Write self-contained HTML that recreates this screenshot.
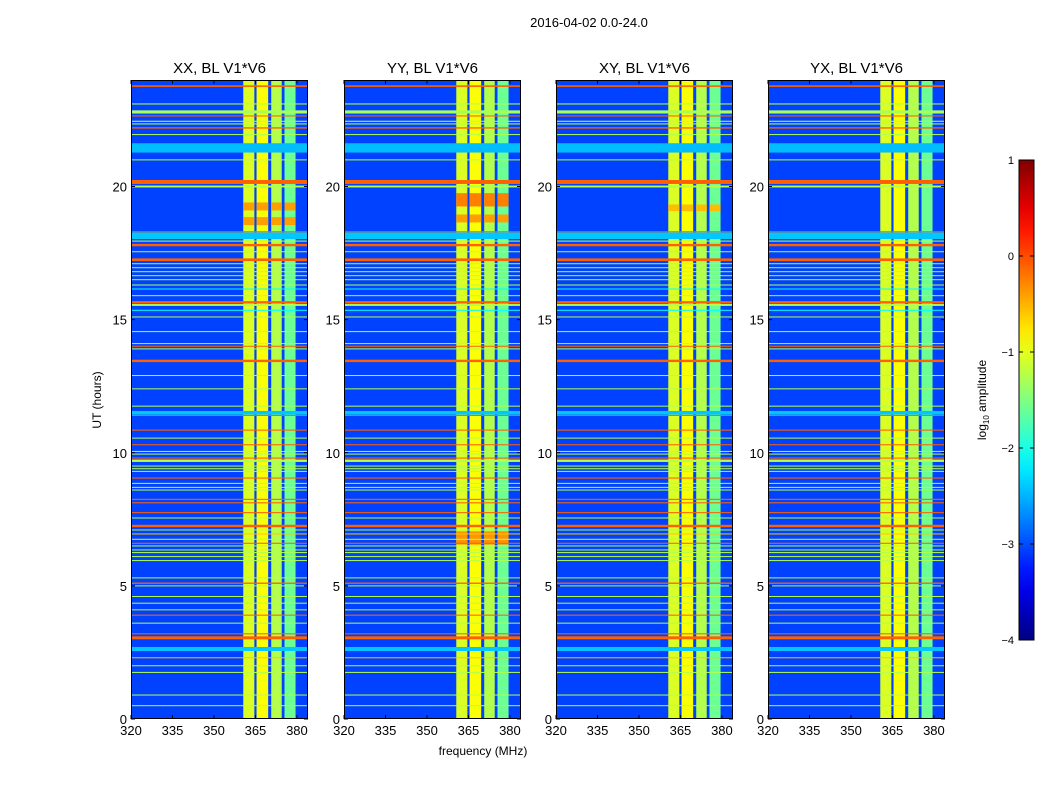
<!DOCTYPE html>
<html><head><meta charset="utf-8"><style>
body{margin:0;background:#fff;}
svg{display:block;font-family:"Liberation Sans",sans-serif;}
</style></head><body>
<svg id="fig" width="1050" height="800">
<text x="589" y="27" font-size="13" text-anchor="middle">2016-04-02 0.0-24.0</text>
<text x="483" y="755" font-size="12" text-anchor="middle">frequency (MHz)</text>
<text transform="translate(101,400) rotate(-90)" font-size="12" text-anchor="middle">UT (hours)</text>
<text transform="translate(986,400) rotate(-90)" font-size="12" text-anchor="middle">log<tspan font-size="8" dy="3">10</tspan><tspan dy="-3"> amplitude</tspan></text>
</svg>
<script>
const panelTitles=["XX, BL V1*V6","YY, BL V1*V6","XY, BL V1*V6","YX, BL V1*V6"];
const xTicks=[320,335,350,365,380];
const yTicks=[0,5,10,15,20];
const cbTicks=[1,0,-1,-2,-3,-4];
const bgLevel=-3.05;
const bandStart=[360.6,365.4,370.7,375.5];
const bandEnd=[364.6,369.6,374.5,379.5];
const bandLevel=[-1.05,-0.9,-1.25,-1.6];
const lineHours=[23.77,23.1,22.8,22.65,22.45,22.35,22.2,21.95,21.45,21.0,20.17,20.0,18.3,18.15,17.95,17.8,17.55,17.25,17.1,16.95,16.8,16.65,16.5,16.3,16.15,15.9,15.65,15.55,15.35,15.1,14.55,14.1,14.0,13.9,13.45,12.9,12.4,11.75,11.5,11.4,10.85,10.55,10.3,10.05,9.95,9.8,9.7,9.5,9.4,9.3,9.05,8.85,8.7,8.6,8.25,8.12,7.75,7.55,7.25,7.1,6.95,6.75,6.6,6.5,6.35,6.25,6.1,5.95,5.3,5.1,5.0,4.6,4.35,4.1,3.9,3.6,3.2,3.05,2.63,2.3,2.0,1.75,0.9,0.5];
const lineWidths=[0.06,0.04,0.12,0.04,0.04,0.04,0.05,0.03,0.35,0.03,0.15,0.07,0.04,0.25,0.04,0.09,0.03,0.1,0.03,0.03,0.03,0.03,0.03,0.03,0.03,0.03,0.09,0.07,0.04,0.03,0.03,0.03,0.03,0.03,0.09,0.03,0.03,0.03,0.14,0.04,0.04,0.03,0.04,0.03,0.03,0.04,0.09,0.03,0.03,0.03,0.04,0.03,0.03,0.03,0.04,0.04,0.04,0.03,0.09,0.03,0.03,0.03,0.04,0.03,0.03,0.03,0.03,0.03,0.03,0.05,0.03,0.03,0.03,0.03,0.04,0.03,0.04,0.11,0.15,0.03,0.03,0.03,0.03,0.03];
const lineLevels=[-0.1,-1.25,-1.3,-0.1,-1.25,-1.25,-0.1,-1.25,-2.45,-1.25,-0.1,-1.25,-0.1,-2.4,-1.25,-0.1,-1.25,-0.1,-1.25,-1.25,-1.25,-1.25,-1.25,-1.25,-2.1,-1.25,-0.1,-1.25,-2.1,-1.25,-1.25,-1.25,-0.1,-1.25,-0.1,-1.25,-1.25,-1.25,-2.4,-0.1,-0.1,-1.25,-0.1,-1.25,-1.25,-0.1,-1.25,-1.25,-1.25,-1.25,-0.1,-1.25,-1.25,-1.25,-0.1,-0.1,-0.1,-1.25,-0.1,-1.25,-0.6,-1.25,-0.1,-1.25,-1.25,-1.25,-1.25,-1.25,-1.25,-0.1,-1.25,-1.25,-1.25,-1.25,-0.1,-1.25,-0.1,-0.1,-2.4,-0.6,-1.25,-1.25,-1.25,-1.25];
const patchPanel=[0,0,1,1,1,2];
const patchHour=[18.7,19.25,19.5,18.8,6.8,19.2];
const patchSpan=[0.3,0.3,0.5,0.3,0.5,0.25];
const patchLevel=[-0.4,-0.4,-0.25,-0.4,-0.35,-0.55];
const panelLeft=[131,344,556,768];
const PW=177,PT=80,PH=639;
const NS="http://www.w3.org/2000/svg";
const svg=document.getElementById('fig');
function jet(v){const t=Math.max(0,Math.min(1,(v+4)/5));const c=x=>Math.round(255*Math.max(0,Math.min(1,1.5-Math.abs(x))));return `rgb(${c(4*t-3)},${c(4*t-2)},${c(4*t-1)})`;}
function xS(p,f){return panelLeft[p]+(f-320)/64*PW;}
function yS(h){return PT+(24-h)/24*PH;}
function mk(tag,attrs,parent){const e=document.createElementNS(NS,tag);for(const k in attrs)e.setAttribute(k,attrs[k]);(parent||svg).appendChild(e);return e;}
for(let p=0;p<4;p++){
  const g=mk('g',{});
  
  
  const bg=mk('rect',{x:xS(p,320),y:yS(24),width:PW,height:PH,fill:jet(bgLevel)},g);
  
  
  for(let i=0;i<bandStart.length;i++){
    const r=mk('rect',{x:xS(p,bandStart[i]),y:yS(24),width:xS(p,bandEnd[i])-xS(p,bandStart[i]),height:PH,fill:jet(bandLevel[i])},g);
    
    
  }
  for(let i=0;i<patchPanel.length;i++){ if(patchPanel[i]!==p)continue;
    for(let j=0;j<bandStart.length;j++){
      const r=mk('rect',{x:xS(p,bandStart[j]),y:yS(patchHour[i]+patchSpan[i]/2),width:xS(p,bandEnd[j])-xS(p,bandStart[j]),height:yS(0)-yS(patchSpan[i]),fill:jet(patchLevel[i])},g);
      
      
    }
  }
  for(let i=0;i<lineHours.length;i++){
    const hgt=Math.max(1,yS(0)-yS(lineWidths[i]));
    const r=mk('rect',{x:xS(p,320),y:yS(lineHours[i])-hgt/2,width:PW,height:hgt,fill:jet(lineLevels[i])},g);
    
    
  }
  const fr=mk('rect',{x:xS(p,320)+0.5,y:PT+0.5,width:PW-1,height:PH-1,fill:'none',stroke:'#000','stroke-width':1},g);
  
  
  const t=mk('text',{x:panelLeft[p]+PW/2,y:73,'font-size':15,'text-anchor':'middle'},g);
  t.textContent=panelTitles[p];
  
  
  xTicks.forEach(v=>{const x=xS(p,v);
    mk('line',{x1:x,x2:x,y1:PT+PH,y2:PT+PH-4,stroke:'#000'},g);
    mk('line',{x1:x,x2:x,y1:PT,y2:PT+4,stroke:'#000'},g);
    const l=mk('text',{x:x,y:PT+PH+16,'font-size':13,'text-anchor':'middle'},g);l.textContent=v;
    
    });
  yTicks.forEach(v=>{const y=yS(v);
    mk('line',{x1:panelLeft[p],x2:panelLeft[p]+4,y1:y,y2:y,stroke:'#000'},g);
    mk('line',{x1:panelLeft[p]+PW,x2:panelLeft[p]+PW-4,y1:y,y2:y,stroke:'#000'},g);
    const l=mk('text',{x:panelLeft[p]-4,y:y+5,'font-size':13,'text-anchor':'end'},g);l.textContent=v;
    
    });
}
const defs=mk('defs',{});
const grad=mk('linearGradient',{id:'jetg',x1:0,y1:1,x2:0,y2:0},defs);
for(let i=0;i<=20;i++){mk('stop',{offset:i/20,'stop-color':jet(-4+5*i/20)},grad);}
const CBX=1019,CBW=15,CBT=160,CBB=640;
const cb=mk('rect',{x:CBX,y:CBT,width:CBW,height:CBB-CBT,fill:'url(#jetg)',stroke:'#000'});


cbTicks.forEach(v=>{const y=CBT+(1-v)/5*(CBB-CBT);
  mk('line',{x1:CBX,x2:CBX+4,y1:y,y2:y,stroke:'#000'});
  mk('line',{x1:CBX+CBW,x2:CBX+CBW-4,y1:y,y2:y,stroke:'#000'});
  const l=mk('text',{x:CBX-5,y:y+4,'font-size':11,'text-anchor':'end'});l.textContent=(v<0?'\u2212'+(-v):v);
  
  });
</script>
</body></html>
